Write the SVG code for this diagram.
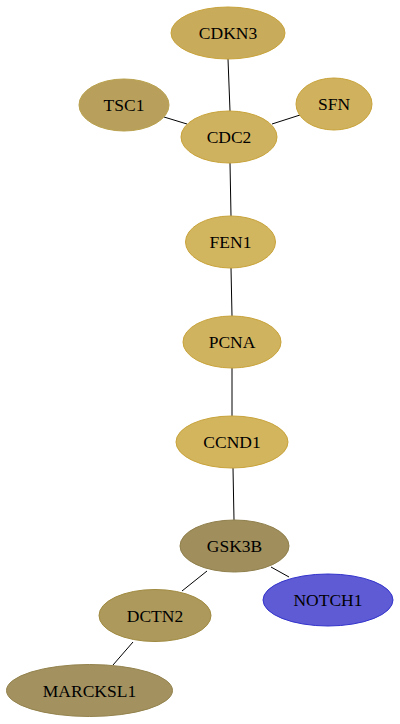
<svg xmlns="http://www.w3.org/2000/svg" width="400" height="724" viewBox="0 0 400 724">
<style>
.n ellipse{stroke-width:1}
.g ellipse{stroke:#c8a33a}
.n text{font-family:"Liberation Serif","Times New Roman",serif;font-size:17.5px;fill:#000;text-anchor:middle}
#edges path{stroke:#000;stroke-width:1;fill:none}
</style>
<rect width="400" height="724" fill="#fff"/>
<g id="edges">
<path d="M228,59 L230,111"/>
<path d="M164,117 L187,124"/>
<path d="M272,124 L300,115"/>
<path d="M230,163 L231,216"/>
<path d="M231,268 L232,316"/>
<path d="M232,368 L232,416"/>
<path d="M233,468 L234,520"/>
<path d="M207,571 L182,591"/>
<path d="M271,567 L289,577"/>
<path d="M133,642 L113,665"/>
</g>
<g id="CDKN3" class="n g"><ellipse cx="228" cy="33" rx="57" ry="26" fill="#c9ab5c"/><text x="228" y="39">CDKN3</text></g>
<g id="TSC1" class="n g"><ellipse cx="124" cy="105" rx="45" ry="26" fill="#b8a05c" style="stroke:#b8a04c"/><text x="124" y="111">TSC1</text></g>
<g id="SFN" class="n g"><ellipse cx="334" cy="104" rx="38" ry="26" fill="#d0b25e"/><text x="334" y="110">SFN</text></g>
<g id="CDC2" class="n g"><ellipse cx="229" cy="137" rx="48" ry="26" fill="#cfb25f"/><text x="229" y="143">CDC2</text></g>
<g id="FEN1" class="n g"><ellipse cx="230.5" cy="242" rx="45" ry="26" fill="#d2b55f"/><text x="230.5" y="248">FEN1</text></g>
<g id="PCNA" class="n g"><ellipse cx="232" cy="342" rx="49" ry="26" fill="#d0b35e"/><text x="232" y="348">PCNA</text></g>
<g id="CCND1" class="n g"><ellipse cx="232" cy="442" rx="56" ry="26" fill="#d3b55e"/><text x="232" y="448">CCND1</text></g>
<g id="GSK3B" class="n"><ellipse cx="234.5" cy="546" rx="54.5" ry="26" fill="#a08f5c" stroke="#8f7f4c"/><text x="234.5" y="552">GSK3B</text></g>
<g id="NOTCH1" class="n"><ellipse cx="328" cy="600" rx="65" ry="26" fill="#5e5bd4" stroke="#3333cc"/><text x="328" y="606">NOTCH1</text></g>
<g id="DCTN2" class="n"><ellipse cx="155" cy="615.5" rx="56" ry="26" fill="#ad995c" stroke="#a08a40"/><text x="155" y="621.5">DCTN2</text></g>
<g id="MARCKSL1" class="n"><ellipse cx="89.5" cy="690.5" rx="83" ry="26" fill="#a39260" stroke="#93824c"/><text x="89.5" y="696.5">MARCKSL1</text></g>
</svg>
